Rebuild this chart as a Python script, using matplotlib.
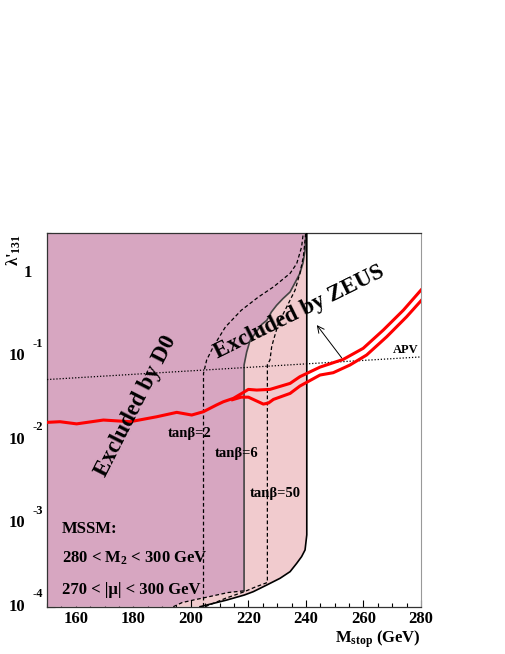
import numpy as np
import matplotlib
matplotlib.use("Agg")
import matplotlib.pyplot as plt
from matplotlib.transforms import offset_copy

plt.rcParams['font.family'] = ['Liberation Serif', 'DejaVu Serif']
plt.rcParams['font.weight'] = 'bold'
plt.rcParams['mathtext.fontset'] = 'custom'
plt.rcParams['mathtext.rm'] = 'Liberation Serif:bold'
plt.rcParams['mathtext.it'] = 'Liberation Serif:bold:italic'
plt.rcParams['mathtext.bf'] = 'Liberation Serif:bold'
plt.rcParams['mathtext.default'] = 'rm'

# dati (x = M_stop in GeV, y = log10 lambda'_131)
YTOP = 0.48

# bordo inferiore regione D0
d0_bordo_x = [193.9, 197.0, 200.9, 205.0, 209.0, 213.0, 218.5]
d0_bordo_ly = [-4.0, -3.95, -3.92, -3.89, -3.86, -3.83, -3.81]

# bordo tanb=6
tb6_x = [218.5, 218.5, 219.4, 220.6, 222.5, 224.6, 226.4, 228.0, 229.8, 232.0, 234.5, 236.2, 237.9, 239.0, 239.7, 240.0]
tb6_ly = [-3.81, -1.105, -0.95, -0.81, -0.72, -0.62, -0.57, -0.47, -0.39, -0.31, -0.23, -0.12, -0.007, 0.12, 0.27, YTOP]

# bordo regione ZEUS
zeus_x = [203.2, 206.7, 212.5, 218.6, 221.7, 226.4, 231.0, 234.5, 236.8, 238.5, 239.7, 240.3, 240.3]
zeus_ly = [-4.0, -3.97, -3.92, -3.86, -3.82, -3.74, -3.66, -3.58, -3.48, -3.40, -3.32, -3.14, YTOP]

# curva tratteggiata tanb=2
tb2_x = [204.4, 204.4, 205.5, 207.8, 212.0, 217.5, 223.5, 228.7, 234.5, 236.8, 238.5, 239.1]
tb2_ly = [-4.0, -1.205, -1.045, -0.886, -0.65, -0.45, -0.29, -0.17, -0.007, 0.11, 0.31, YTOP]

# curva tratteggiata tanb=50
tb50_x = [205.0, 212.0, 218.6, 222.0, 226.6, 226.6, 227.5, 228.1, 228.7, 230.4, 233.3, 236.2, 237.9, 239.1, 239.7, 239.9]
tb50_ly = [-4.0, -3.9, -3.82, -3.77, -3.71, -1.10, -1.045, -0.886, -0.81, -0.61, -0.41, -0.21, -0.007, 0.19, 0.39, YTOP]

# curve rosse
rossa1_x = [150.0, 154.5, 160.3, 169.6, 178.9, 188.1, 195.1, 200.3, 204.3, 208.9, 211.3, 214.8, 217.7, 220.0, 222.9, 227.5, 234.5, 237.9, 244.9, 253.0, 259.9, 266.9, 273.9, 280.0]
rossa1_ly = [-1.792, -1.784, -1.81, -1.764, -1.784, -1.725, -1.672, -1.704, -1.665, -1.584, -1.545, -1.504, -1.445, -1.397, -1.405, -1.397, -1.325, -1.245, -1.13, -1.037, -0.905, -0.686, -0.447, -0.207]
rossa2_x = [214.5, 217.5, 220.0, 222.5, 225.2, 227.0, 228.7, 234.5, 237.9, 244.9, 249.5, 255.3, 261.1, 268.1, 275.0, 280.0]
rossa2_ly = [-1.52, -1.49, -1.49, -1.53, -1.573, -1.56, -1.517, -1.445, -1.357, -1.225, -1.197, -1.105, -0.985, -0.766, -0.527, -0.335]

# linea APV
apv_x = [150.0, 280.0]
apv_ly = [-1.279, -1.008]

VIOLA = '#d7a6c1'
ROSA = '#f1cbce'

fig = plt.figure(figsize=(5.05, 6.54), dpi=100)
ax = fig.add_axes([47/505, 1-606.7/654, 374/505, 374/654])
ax.set_yscale('log')
ax.set_xlim(150, 280)
ax.set_ylim(1e-4, 10**YTOP)


def pw(v):
    return [10**a for a in v]


# regione ZEUS (rosa)
px = [150.0] + zeus_x + [150.0]
py = [-4.0] + zeus_ly + [YTOP]
ax.fill(px, pw(py), color=ROSA, lw=0, zorder=1)

# regione D0 (viola)
px = [150.0] + d0_bordo_x + tb6_x[1:] + [150.0]
py = [-4.0] + d0_bordo_ly + tb6_ly[1:] + [YTOP]
ax.fill(px, pw(py), color=VIOLA, lw=0, zorder=2)

ax.plot(tb6_x, pw(tb6_ly), color='#444444', lw=1.2, zorder=4)
ax.plot(zeus_x, pw(zeus_ly), color='black', lw=1.2, zorder=4)
ax.plot(d0_bordo_x, pw(d0_bordo_ly), color='black', lw=0.9, ls=(0, (3, 2)), zorder=4)
ax.plot(tb2_x, pw(tb2_ly), color='black', lw=0.9, ls=(0, (3, 2)), zorder=4)
ax.plot(tb50_x, pw(tb50_ly), color='black', lw=0.9, ls=(0, (3, 2)), zorder=4)
ax.plot(apv_x, pw(apv_ly), color='black', lw=0.9, ls=(0, (1, 1.5)), zorder=4)

ax.plot(rossa1_x, pw(rossa1_ly), color='red', lw=2.2, zorder=5)
ax.plot(rossa2_x, pw(rossa2_ly), color='red', lw=2.2, zorder=5)

ax.annotate('', xy=(243.2, 10**-0.60), xytext=(253.0, 10**-1.045),
            arrowprops=dict(arrowstyle='->', lw=0.7, color='black', mutation_scale=12), zorder=6)

# testi
ax.text(180.8, 10**-1.60, 'Excluded by D0', rotation=63, rotation_mode='anchor',
        ha='center', va='center', fontsize=16.5, fontweight='bold', zorder=6)
ax.text(237.6, 10**-0.467, 'Excluded by ZEUS', rotation=26.3, rotation_mode='anchor',
        ha='center', va='center', fontsize=16.5, fontweight='bold', zorder=6)
ax.text(270.3, 10**-1.0, 'APV', ha='left', va='bottom', fontsize=9, zorder=6)
ax.text(199.7, 10**-1.93, 'tanβ=2', ha='center', va='center', fontsize=10.5, zorder=6)
ax.text(216.0, 10**-2.17, 'tanβ=6', ha='center', va='center', fontsize=10.5, zorder=6)
ax.text(229.3, 10**-2.65, 'tanβ=50', ha='center', va='center', fontsize=10.5, zorder=6)
ax.text(155.2, 10**-3.07, 'MSSM:', ha='left', va='center', fontsize=12, zorder=6)
ax.text(155.2, 10**-3.42, '280 < M$_2$ < 300 GeV', ha='left', va='center', fontsize=12, zorder=6)
ax.text(155.2, 10**-3.80, '270 < |μ| < 300 GeV', ha='left', va='center', fontsize=12, zorder=6)

# assi in stile ROOT
ax.set_xticks(np.arange(160, 281, 20))
ax.set_xticks(np.arange(150, 281, 5), minor=True)
ax.tick_params(axis='x', which='major', direction='in', length=5, width=0.8, labelsize=12, pad=3)
ax.tick_params(axis='x', which='minor', direction='in', length=3, width=0.8)
ax.tick_params(axis='y', which='major', direction='in', length=6, width=0.8, labelleft=False)
ax.tick_params(axis='y', which='minor', direction='in', length=3, width=0.8)
for lab in ax.get_xticklabels():
    lab.set_fontweight('bold')

ytr = ax.get_yaxis_transform()
ytr_su = offset_copy(ytr, fig=fig, y=12.5, units='dots')
for k in [-4, -3, -2, -1]:
    ax.text(-0.059, 10**k, '10', transform=ytr, ha='right', va='center', fontsize=12, clip_on=False)
    ax.text(-0.038, 10**k, str(k), transform=ytr_su, ha='left', va='center', fontsize=9, clip_on=False)
ax.text(-0.04, 1, '1', transform=ytr, ha='right', va='center', fontsize=12, clip_on=False)

for s in ['left', 'bottom', 'top']:
    ax.spines[s].set_color('#333333')
    ax.spines[s].set_linewidth(0.9)
ax.spines['right'].set_color('#999999')
ax.spines['right'].set_linewidth(0.8)

fig.text(14/505, 1-250/654, "λ'$_{131}$", rotation=90, ha='center', va='center', fontsize=12)
fig.text(421/505, 1-643/654, 'M$_{\\mathrm{stop}}$ (GeV)', ha='right', va='baseline', fontsize=12)

fig.savefig('out.png', dpi=100)
